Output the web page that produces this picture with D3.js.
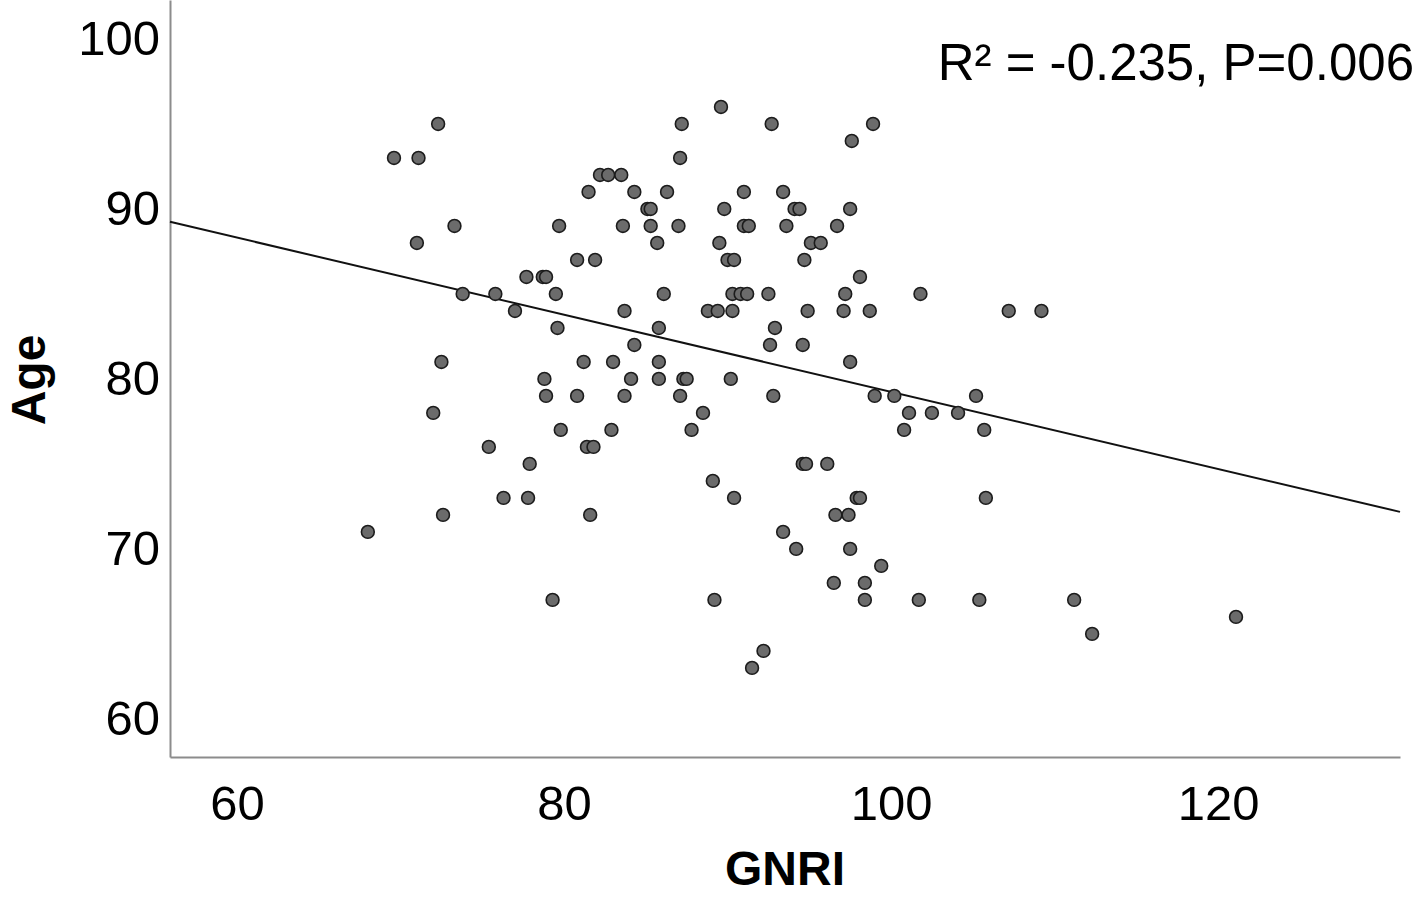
<!DOCTYPE html>
<html>
<head>
<meta charset="utf-8">
<script src="https://cdn.jsdelivr.net/npm/d3@7"></script>
<style>
  body { margin: 0; background: #fff; }
  text { font-family: Arial, "Liberation Sans", sans-serif; }
</style>
</head>
<body>
<div id="chart"></div>
<script>
const width = 1416
const height = 897
const margin = { top: 0, right: 16, bottom: 140, left: 170 }

// data
const gnri = [
    89.6,
    72.3, 87.2, 92.7, 98.9,
    97.6,
    69.6, 71.1, 87.1,
    82.2, 82.7, 83.5,
    81.5, 84.3, 86.3, 91.0, 93.4,
    85.1, 85.3, 89.8, 94.1, 94.4, 97.5,
    73.3, 79.7, 83.6, 85.3, 87.0, 91.0, 91.3, 93.6, 96.7,
    71.0, 85.7, 89.5, 95.1, 95.7,
    80.8, 81.9, 90.0, 90.4, 94.7,
    77.7, 78.7, 78.9, 98.1,
    73.8, 75.8, 79.5, 86.1, 90.3, 90.8, 91.2, 92.5, 97.2, 101.8,
    77.0, 83.7, 88.8, 89.4, 90.3, 94.9, 97.1, 98.7, 107.2, 109.2,
    79.6, 85.8, 92.9,
    84.3, 92.6, 94.6,
    72.5, 81.2, 83.0, 85.8, 97.5,
    78.8, 84.1, 85.8, 87.3, 87.5, 90.2,
    78.9, 80.8, 83.7, 87.1, 92.8, 99.0, 100.2, 105.2,
    72.0, 88.5, 101.1, 102.5, 104.1,
    79.8, 82.9, 87.8, 100.8, 105.7,
    75.4, 81.4, 81.8,
    77.9, 94.6, 94.8, 96.1,
    89.1,
    76.3, 77.8, 90.4, 97.9, 98.1, 105.8,
    72.6, 81.6, 96.6, 97.4,
    68.0, 93.4,
    94.2, 97.5,
    99.4,
    96.5, 98.4,
    79.3, 89.2, 98.4, 101.7, 105.4, 111.2,
    121.1,
    112.3,
    92.2,
    91.5
]
const age = [
    96,
    95, 95, 95, 95,
    94,
    93, 93, 93,
    92, 92, 92,
    91, 91, 91, 91, 91,
    90, 90, 90, 90, 90, 90,
    89, 89, 89, 89, 89, 89, 89, 89, 89,
    88, 88, 88, 88, 88,
    87, 87, 87, 87, 87,
    86, 86, 86, 86,
    85, 85, 85, 85, 85, 85, 85, 85, 85, 85,
    84, 84, 84, 84, 84, 84, 84, 84, 84, 84,
    83, 83, 83,
    82, 82, 82,
    81, 81, 81, 81, 81,
    80, 80, 80, 80, 80, 80,
    79, 79, 79, 79, 79, 79, 79, 79,
    78, 78, 78, 78, 78,
    77, 77, 77, 77, 77,
    76, 76, 76,
    75, 75, 75, 75,
    74,
    73, 73, 73, 73, 73, 73,
    72, 72, 72, 72,
    71, 71,
    70, 70,
    69,
    68, 68,
    67, 67, 67, 67, 67, 67,
    66,
    65,
    64,
    63
]
const x_ticks = [60, 80, 100, 120]
const y_ticks = [60, 70, 80, 90, 100]
// fit line: age = intercept + slope * gnri
const fit_intercept = 101.92
const fit_slope = -0.2268
const annotation = 'R² = -0.235, P=0.006'

const points = gnri.map((g, i) => ({ x: g, y: age[i] }))

const svg = d3.select('#chart')
    .append('svg')
    .attr('width', width)
    .attr('height', height)

const x = d3.scaleLinear()
    .domain([55.9, 131.13])
    .range([margin.left, width - margin.right])
const y = d3.scaleLinear()
    .domain([57.76, 102.29])
    .range([height - margin.bottom, margin.top])

// axes
const x_axis = svg.append('g')
    .attr('transform', `translate(0,${height - margin.bottom})`)
    .call(d3.axisBottom(x).tickValues(x_ticks).tickSize(0).tickPadding(28))
const y_axis = svg.append('g')
    .attr('transform', `translate(${margin.left},0)`)
    .call(d3.axisLeft(y).tickValues(y_ticks).tickSize(0).tickPadding(10))

for (const g of [x_axis, y_axis]) {
    g.select('.domain')
        .attr('stroke', '#8c8c8c')
        .attr('stroke-width', 2)
    g.selectAll('.tick text')
        .attr('fill', '#000')
        .style('font-size', '49px')
        .style('font-family', 'Arial, "Liberation Sans", sans-serif')
}

// regression line
const x0 = x.domain()[0]
const x1 = x.domain()[1]
svg.append('line')
    .attr('x1', x(x0))
    .attr('y1', y(fit_intercept + fit_slope * x0))
    .attr('x2', x(x1))
    .attr('y2', y(fit_intercept + fit_slope * x1))
    .attr('stroke', '#111')
    .attr('stroke-width', 2)

// points
svg.append('g')
    .selectAll('circle')
    .data(points)
    .enter()
    .append('circle')
    .attr('cx', d => x(d.x))
    .attr('cy', d => y(d.y))
    .attr('r', 6.4)
    .attr('fill', '#6b6b6b')
    .attr('stroke', '#1c1c1c')
    .attr('stroke-width', 1.6)

// axis titles
svg.append('text')
    .attr('x', (x(x0) + x(x1)) / 2)
    .attr('y', 885)
    .attr('text-anchor', 'middle')
    .style('font-size', '48px')
    .style('font-weight', 'bold')
    .text('GNRI')

svg.append('text')
    .attr('transform', `translate(45,380) rotate(-90)`)
    .attr('text-anchor', 'middle')
    .style('font-size', '48px')
    .style('font-weight', 'bold')
    .text('Age')

// annotation
svg.append('text')
    .attr('x', 1414)
    .attr('y', 80)
    .attr('text-anchor', 'end')
    .style('font-size', '51px')
    .text(annotation)
</script>
</body>
</html>
